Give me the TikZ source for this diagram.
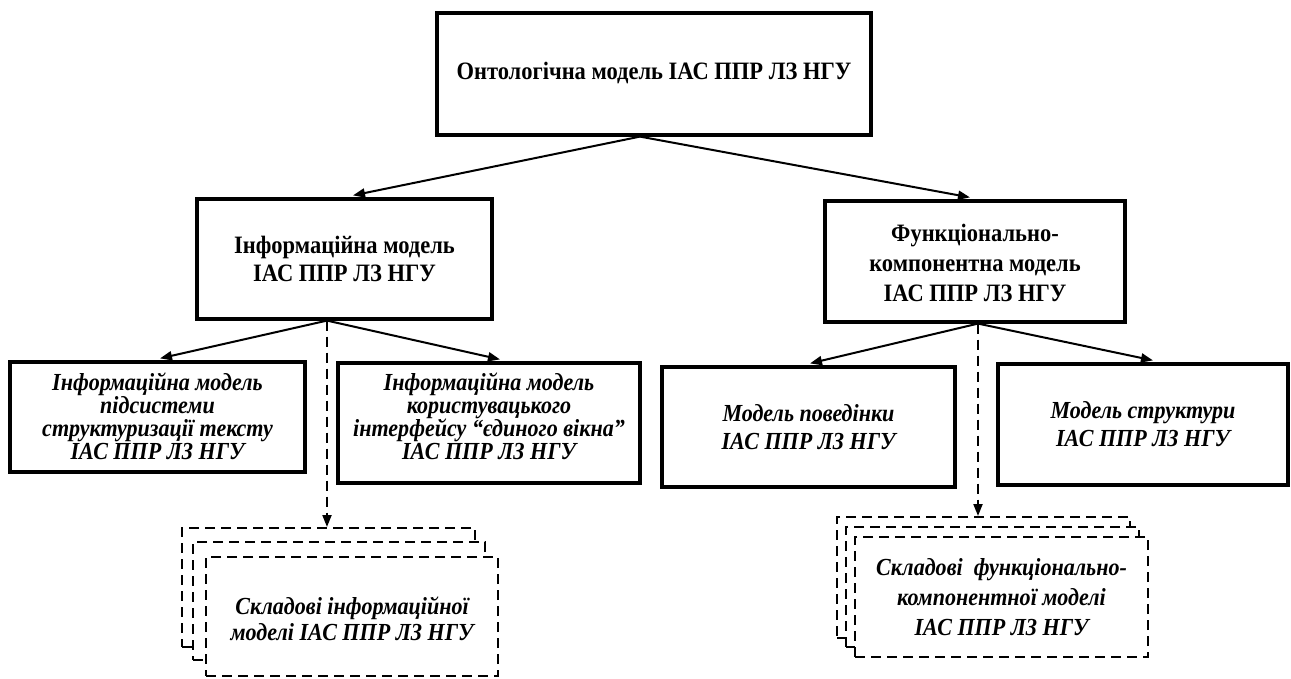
\documentclass[tikz,border=0pt]{standalone}
\usepackage{fontspec}
\setmainfont{Liberation Serif}[FakeStretch=0.9]
\usetikzlibrary{arrows.meta,calc}
\begin{document}
\begin{tikzpicture}[x=1pt,y=-1pt,
  box/.style={draw,line width=3.2pt,inner sep=0pt},
  dbox/.style={draw,line width=2pt,dash pattern=on 10pt off 6pt,fill=white,inner sep=0pt},
  btxt/.style={align=center,inner sep=0pt,font=\bfseries\fontsize{25}{#1}\selectfont},
  itxt/.style={align=center,inner sep=0pt,font=\bfseries\itshape\fontsize{24.5}{#1}\selectfont},
  arr/.style={-{Triangle[length=12pt,width=9pt]},line width=2pt},
  darr/.style={arr,dash pattern=on 10pt off 6pt}]
\fill[white] (0,0) rectangle (1291,678);
\useasboundingbox (0,0) rectangle (1291,678);

% solid boxes
\node[box,minimum width=434pt,minimum height=122pt] (A) at (654,74) {};
\node[box,minimum width=295pt,minimum height=120pt] (B) at (344.5,259) {};
\node[box,minimum width=300pt,minimum height=121pt] (C) at (975,261.5) {};
\node[box,minimum width=295pt,minimum height=110pt] (D) at (157.5,417) {};
\node[box,minimum width=302pt,minimum height=120pt] (E) at (489,423) {};
\node[box,minimum width=293pt,minimum height=120pt] (F) at (808.5,427) {};
\node[box,minimum width=290pt,minimum height=121pt] (G) at (1143,424.5) {};

% texts
\node[btxt=29] (At) at ($(A.center)+(0,-1)$) {Онтологічна модель ІАС ППР ЛЗ НГУ};
\node[btxt=28] (Bt) at (B.center) {Інформаційна модель\\ІАС ППР ЛЗ НГУ};
\node[btxt=30] (Ct) at ($(C.center)+(0,1)$) {Функціонально-\\компонентна модель\\ІАС ППР ЛЗ НГУ};
\node[itxt=23] (Dt) at ($(D.center)+(0,-1)$) {Інформаційна модель\\підсистеми\\структуризації тексту\\ІАС ППР ЛЗ НГУ};
\node[itxt=23] (Et) at ($(E.center)+(0,-7)$) {Інформаційна модель\\користувацького\\інтерфейсу “єдиного вікна”\\ІАС ППР ЛЗ НГУ};
\node[itxt=28] (Ft) at (F.center) {Модель поведінки\\ІАС ППР ЛЗ НГУ};
\node[itxt=28] (Gt) at (G.center) {Модель структури\\ІАС ППР ЛЗ НГУ};

% dashed stacks (left)
\node[dbox,minimum width=293pt,minimum height=119pt] (L1) at (328.5,587.5) {};
\node[dbox,minimum width=292pt,minimum height=118pt] (L2) at (339,601) {};
\node[dbox,minimum width=292pt,minimum height=119pt] (L3) at (352,616.5) {};
\node[itxt=26] (L3t) at ($(L3.center)+(0,2)$) {Складові інформаційної\\моделі ІАС ППР ЛЗ НГУ};
% dashed stacks (right)
\node[dbox,minimum width=293pt,minimum height=121pt] (R1) at (983.5,577.5) {};
\node[dbox,minimum width=293pt,minimum height=120pt] (R2) at (992.5,587) {};
\node[dbox,minimum width=293pt,minimum height=120pt] (R3) at (1001.5,597) {};
\node[itxt=30] (R3t) at (R3.center) {Складові\ \ функціонально-\\компонентної моделі\\ІАС ППР ЛЗ НГУ};

% connector end points
\coordinate (a0) at ($(A.south)+(-14,0)$);
\coordinate (b0) at ($(B.south)+(-17.5,0)$);
\coordinate (c0) at ($(C.south)+(3,0)$);
\coordinate (bt) at ($(B.north)+(8.5,-2)$);
\coordinate (ct) at ($(C.north)+(-5,-2)$);
\coordinate (dt) at ($(D.north)+(2.5,-2)$);
\coordinate (et) at ($(E.north)+(11,-2)$);
\coordinate (ft) at ($(F.north)+(1.5,-2)$);
\coordinate (gt) at ($(G.north)+(10,-2)$);
\coordinate (l1t) at (L1.north -| b0);
\coordinate (r1t) at (R1.north -| c0);

\draw[arr] (a0) -- (bt);
\draw[arr] (a0) -- (ct);
\draw[arr] (b0) -- (dt);
\draw[arr] (b0) -- (et);
\draw[arr] (c0) -- (ft);
\draw[arr] (c0) -- (gt);
\draw[darr] (b0) -- (l1t);
\draw[darr] (c0) -- (r1t);
\end{tikzpicture}
\end{document}
